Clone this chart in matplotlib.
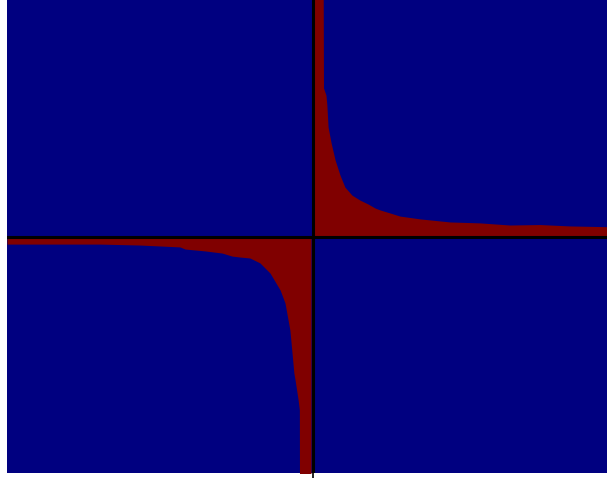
import matplotlib
matplotlib.use("Agg")
import matplotlib.pyplot as plt
import numpy as np

# Region between y = 0 and a hyperbola-like response, both branches
x_pos = [0.002, 0.034, 0.036, 0.044, 0.047, 0.051, 0.061, 0.074, 0.090, 0.106,
         0.129, 0.155, 0.182, 0.205, 0.221, 0.254, 0.286, 0.352, 0.450, 0.548,
         0.646, 0.745, 0.843, 1.0]
y_pos = [1.5, 1.5, 0.635, 0.605, 0.563, 0.469, 0.401, 0.329, 0.265, 0.214,
         0.180, 0.159, 0.142, 0.125, 0.117, 0.104, 0.091, 0.079, 0.066, 0.062,
         0.053, 0.055, 0.049, 0.045]

x_neg = [-1.0, -0.696, -0.565, -0.434, -0.417, -0.352, -0.296, -0.263, -0.237,
         -0.205, -0.172, -0.139, -0.106, -0.090, -0.074, -0.067, -0.061, -0.057,
         -0.047, -0.043, -0.042, -0.005]
y_neg = [-0.028, -0.028, -0.032, -0.040, -0.049, -0.057, -0.066, -0.079, -0.083,
         -0.087, -0.108, -0.151, -0.223, -0.278, -0.393, -0.490, -0.575, -0.605,
         -0.690, -0.732, -1.5, -1.5]

navy = "#000080"
maroon = "#800000"

fig = plt.figure(figsize=(6.07, 4.78), dpi=100)
W, H = 607, 478
ax_h = 235.5 * 2.02
ax = fig.add_axes([7 / W, 5 / H, 611 / W, ax_h / H])
ax.set_facecolor(navy)

ax.fill_between(x_pos, y_pos, 0, color=maroon, linewidth=0)
ax.fill_between(x_neg, y_neg, 0, color=maroon, linewidth=0)

ax.axhline(0, color="black", linewidth=2.2, zorder=3)
ax.axvline(0, color="black", linewidth=2.2, zorder=3)

ax.set_xlim(-1, 1)
ax.set_ylim(-1, 1.02)
ax.set_xticks([0])
ax.set_xticklabels([])
ax.set_yticks([])
ax.tick_params(axis="x", direction="out", length=3.6, width=1.2, color="black")
for s in ax.spines.values():
    s.set_visible(False)

fig.savefig("out.png", dpi=100)
